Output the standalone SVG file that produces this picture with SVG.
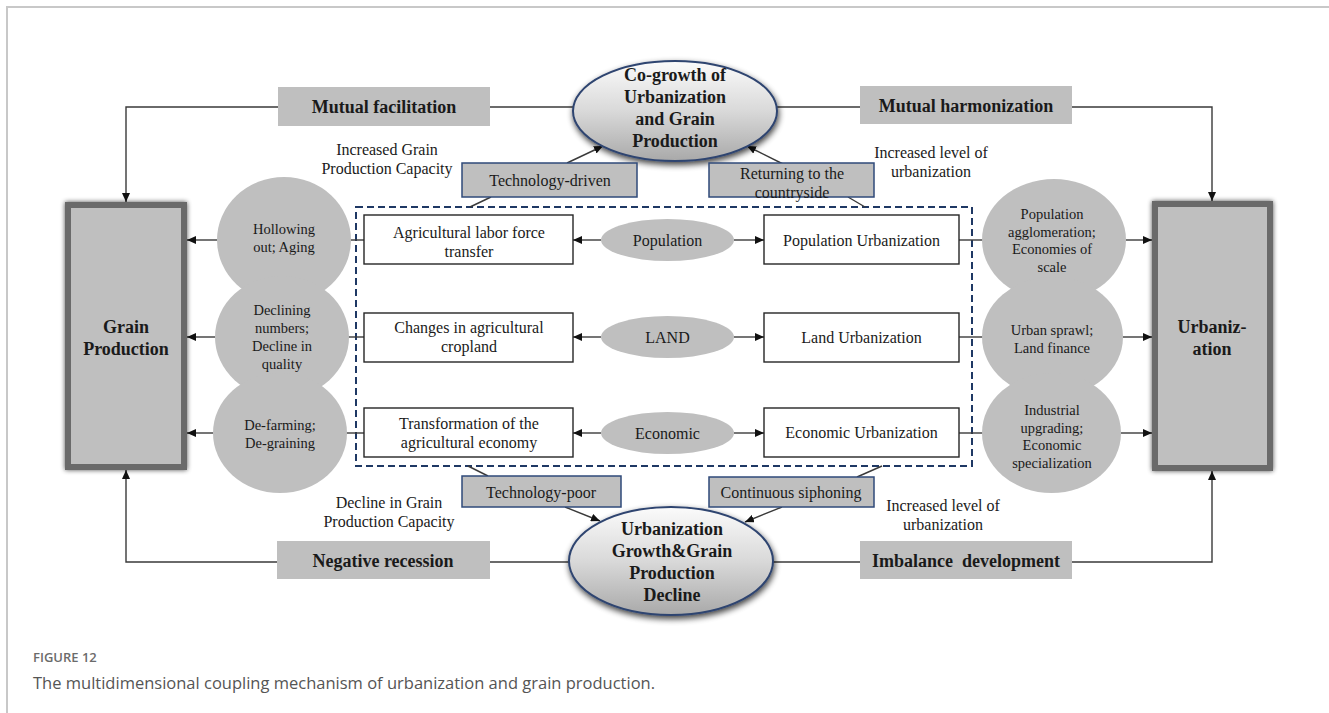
<svg xmlns="http://www.w3.org/2000/svg" width="1329" height="713" viewBox="0 0 1329 713">
<defs>
<style>
.serif{font-family:"Liberation Serif","Times New Roman",serif;fill:#1a1a1a}
.t16{font-size:16px}
.t15{font-size:14.5px}
.b18{font-size:18px;font-weight:bold}
.mid{text-anchor:middle}
.conn{stroke:#3a3a3a;stroke-width:1.4;fill:none}
.gbox{fill:#bfbfbf}
.sbox{fill:#bfbfbf;stroke:#2f4a7a;stroke-width:1.5}
.wbox{fill:#ffffff;stroke:#262626;stroke-width:1.4}
.circ{fill:#bfbfbf}
.big{fill:#bfbfbf;stroke:#6a6a6a;stroke-width:6}
.oval{fill:url(#og);stroke:#2f4470;stroke-width:2}
</style>
<linearGradient id="og" x1="0" y1="0" x2="0" y2="1">
<stop offset="0" stop-color="#fbfbfb"/>
<stop offset="0.5" stop-color="#d9d9d9"/>
<stop offset="1" stop-color="#a9a9a9"/>
</linearGradient>
<filter id="glow" x="-20%" y="-20%" width="140%" height="140%">
<feGaussianBlur in="SourceAlpha" stdDeviation="2.5"/>
<feComponentTransfer><feFuncA type="linear" slope="0.7"/></feComponentTransfer>
<feMerge><feMergeNode/><feMergeNode in="SourceGraphic"/></feMerge>
</filter>
<filter id="osh" x="-20%" y="-20%" width="140%" height="150%">
<feGaussianBlur in="SourceAlpha" stdDeviation="3"/>
<feOffset dx="1" dy="3" result="b"/>
<feComponentTransfer><feFuncA type="linear" slope="0.75"/></feComponentTransfer>
<feMerge><feMergeNode/><feMergeNode in="SourceGraphic"/></feMerge>
</filter>
<marker id="ah" markerWidth="9" markerHeight="8" refX="9" refY="4" orient="auto" markerUnits="userSpaceOnUse">
<path d="M0,0 L9,4 L0,8 z" fill="#111"/>
</marker>
</defs>
<rect x="0" y="0" width="1329" height="713" fill="#ffffff"/>
<path d="M7,713 L7,7 L1329,7" stroke="#c8c8c8" stroke-width="2" fill="none"/>

<g id="coupling-frame">
<rect x="356" y="207" width="616" height="259" fill="none" stroke="#1f3864" stroke-width="2" stroke-dasharray="7 4"/>
</g>

<g id="connectors">
<path class="conn" d="M278,107 L126,107 L126,202" marker-end="url(#ah)"/>
<path class="conn" d="M490,107 L573,107"/>
<path class="conn" d="M777,107 L860,107"/>
<path class="conn" d="M1072,107 L1212,107 L1212,201" marker-end="url(#ah)"/>
<path class="conn" d="M277,562 L126,562 L126,470" marker-end="url(#ah)"/>
<path class="conn" d="M490,562 L569,562"/>
<path class="conn" d="M773,562 L860,562"/>
<path class="conn" d="M1072,562 L1212,562 L1212,471" marker-end="url(#ah)"/>
<path class="conn" d="M470,207 L491,197"/>
<path class="conn" d="M567,163 L603,146" marker-end="url(#ah)"/>
<path class="conn" d="M865,207 L848,197"/>
<path class="conn" d="M783,164 L747,146" marker-end="url(#ah)"/>
<path class="conn" d="M468,466 L488,476"/>
<path class="conn" d="M565,507 L600,521" marker-end="url(#ah)"/>
<path class="conn" d="M882,466 L857,477"/>
<path class="conn" d="M782,507 L745,522" marker-end="url(#ah)"/>
<path class="conn" d="M601,240 L573,240" marker-end="url(#ah)"/>
<path class="conn" d="M734,240 L764,240" marker-end="url(#ah)"/>
<path class="conn" d="M601,337 L573,337" marker-end="url(#ah)"/>
<path class="conn" d="M734,337 L764,337" marker-end="url(#ah)"/>
<path class="conn" d="M601,433 L573,433" marker-end="url(#ah)"/>
<path class="conn" d="M734,433 L764,433" marker-end="url(#ah)"/>
<path class="conn" d="M364,240 L350,240"/>
<path class="conn" d="M364,337 L348,337"/>
<path class="conn" d="M364,433 L346,433"/>
<path class="conn" d="M959,240 L983,240"/>
<path class="conn" d="M959,337 L983,337"/>
<path class="conn" d="M959,433 L983,433"/>
<path class="conn" d="M217,240 L187,240" marker-end="url(#ah)"/>
<path class="conn" d="M215,337 L187,337" marker-end="url(#ah)"/>
<path class="conn" d="M213,433 L187,433" marker-end="url(#ah)"/>
<path class="conn" d="M1126,240 L1152,240" marker-end="url(#ah)"/>
<path class="conn" d="M1123,337 L1152,337" marker-end="url(#ah)"/>
<path class="conn" d="M1121,433 L1152,433" marker-end="url(#ah)"/>
</g>

<g id="grain-production">
<rect class="big" x="68" y="205" width="116" height="262" filter="url(#glow)"/>
<text class="serif b18 mid" x="126" y="333">Grain</text>
<text class="serif b18 mid" x="126" y="355">Production</text>
</g>
<g id="urbanization">
<rect class="big" x="1155" y="204" width="115" height="264" filter="url(#glow)"/>
<text class="serif b18 mid" x="1212" y="333">Urbaniz-</text>
<text class="serif b18 mid" x="1212" y="355">ation</text>
</g>

<g id="mutual-facilitation">
<rect class="gbox" x="278" y="87" width="212" height="39"/>
<text class="serif b18 mid" x="384" y="113">Mutual facilitation</text>
</g>
<g id="mutual-harmonization">
<rect class="gbox" x="860" y="86" width="212" height="38"/>
<text class="serif b18 mid" x="966" y="112">Mutual harmonization</text>
</g>
<g id="negative-recession">
<rect class="gbox" x="277" y="541" width="213" height="38"/>
<text class="serif b18 mid" x="383" y="567">Negative recession</text>
</g>
<g id="imbalance-development">
<rect class="gbox" x="860" y="541" width="212" height="38"/>
<text class="serif b18 mid" x="966" y="567" xml:space="preserve">Imbalance  development</text>
</g>

<g id="co-growth">
<ellipse class="oval" cx="675" cy="111" rx="102" ry="50" filter="url(#osh)"/>
<text class="serif b18 mid" x="675" y="81">Co-growth of</text>
<text class="serif b18 mid" x="675" y="103">Urbanization</text>
<text class="serif b18 mid" x="675" y="125">and Grain</text>
<text class="serif b18 mid" x="675" y="147">Production</text>
</g>
<g id="growth-decline">
<ellipse class="oval" cx="671" cy="561" rx="102" ry="54" filter="url(#osh)"/>
<text class="serif b18 mid" x="672" y="535">Urbanization</text>
<text class="serif b18 mid" x="672" y="557">Growth&amp;Grain</text>
<text class="serif b18 mid" x="672" y="579">Production</text>
<text class="serif b18 mid" x="672" y="601">Decline</text>
</g>

<g id="technology-driven">
<rect class="sbox" x="462" y="163" width="175" height="34"/>
<text class="serif t16 mid" x="550" y="185.5">Technology-driven</text>
</g>
<g id="returning-countryside">
<rect class="sbox" x="709" y="163" width="165" height="34"/>
<text class="serif t16 mid" x="792" y="178.5">Returning to the</text>
<text class="serif t16 mid" x="792" y="197.5">countryside</text>
</g>
<g id="technology-poor">
<rect class="sbox" x="462" y="476" width="159" height="31"/>
<text class="serif t16 mid" x="541" y="497.5">Technology-poor</text>
</g>
<g id="continuous-siphoning">
<rect class="sbox" x="709" y="477" width="165" height="30"/>
<text class="serif t16 mid" x="791" y="497.5">Continuous siphoning</text>
</g>

<g id="labels">
<text class="serif t16 mid" x="387" y="155">Increased Grain</text>
<text class="serif t16 mid" x="387" y="174">Production Capacity</text>
<text class="serif t16 mid" x="931" y="157.5">Increased level of</text>
<text class="serif t16 mid" x="931" y="176.5">urbanization</text>
<text class="serif t16 mid" x="389" y="507.5">Decline in Grain</text>
<text class="serif t16 mid" x="389" y="526.5">Production Capacity</text>
<text class="serif t16 mid" x="943" y="510.5">Increased level of</text>
<text class="serif t16 mid" x="943" y="529.5">urbanization</text>
</g>

<g id="agri-labor">
<rect class="wbox" x="364" y="215" width="209" height="49"/>
<text class="serif t16 mid" x="469" y="237.5">Agricultural labor force</text>
<text class="serif t16 mid" x="469" y="256.5">transfer</text>
</g>
<g id="cropland">
<rect class="wbox" x="364" y="313" width="209" height="49"/>
<text class="serif t16 mid" x="469" y="333">Changes in agricultural</text>
<text class="serif t16 mid" x="469" y="352">cropland</text>
</g>
<g id="agri-economy">
<rect class="wbox" x="364" y="408" width="209" height="49"/>
<text class="serif t16 mid" x="469" y="428.5">Transformation of the</text>
<text class="serif t16 mid" x="469" y="447.5">agricultural economy</text>
</g>

<g id="population">
<ellipse class="circ" cx="667.5" cy="240" rx="66.5" ry="21"/>
<text class="serif t16 mid" x="667.5" y="245.5">Population</text>
</g>
<g id="land">
<ellipse class="circ" cx="667.5" cy="337" rx="66.5" ry="21"/>
<text class="serif t16 mid" x="667.5" y="342.5">LAND</text>
</g>
<g id="economic">
<ellipse class="circ" cx="667.5" cy="433" rx="66.5" ry="21"/>
<text class="serif t16 mid" x="667.5" y="438.5">Economic</text>
</g>

<g id="pop-urbanization">
<rect class="wbox" x="764" y="215" width="195" height="49"/>
<text class="serif t16 mid" x="861.5" y="245.5">Population Urbanization</text>
</g>
<g id="land-urbanization">
<rect class="wbox" x="764" y="313" width="195" height="49"/>
<text class="serif t16 mid" x="861.5" y="342.5">Land Urbanization</text>
</g>
<g id="econ-urbanization">
<rect class="wbox" x="764" y="408" width="195" height="49"/>
<text class="serif t16 mid" x="861.5" y="438">Economic Urbanization</text>
</g>

<g id="hollowing">
<ellipse class="circ" cx="284" cy="240" rx="67" ry="63"/>
<text class="serif t15 mid" x="284" y="234">Hollowing</text>
<text class="serif t15 mid" x="284" y="252">out; Aging</text>
</g>
<g id="declining">
<ellipse class="circ" cx="282" cy="337" rx="67" ry="61"/>
<text class="serif t15 mid" x="282" y="315">Declining</text>
<text class="serif t15 mid" x="282" y="333">numbers;</text>
<text class="serif t15 mid" x="282" y="351">Decline in</text>
<text class="serif t15 mid" x="282" y="369">quality</text>
</g>
<g id="defarming">
<ellipse class="circ" cx="280" cy="433" rx="67" ry="60"/>
<text class="serif t15 mid" x="280" y="430">De-farming;</text>
<text class="serif t15 mid" x="280" y="448">De-graining</text>
</g>

<g id="agglomeration">
<ellipse class="circ" cx="1054" cy="240" rx="72" ry="61"/>
<text class="serif t15 mid" x="1052" y="219">Population</text>
<text class="serif t15 mid" x="1052" y="237">agglomeration;</text>
<text class="serif t15 mid" x="1052" y="254">Economies of</text>
<text class="serif t15 mid" x="1052" y="272">scale</text>
</g>
<g id="urban-sprawl">
<ellipse class="circ" cx="1052.5" cy="337" rx="70.5" ry="60"/>
<text class="serif t15 mid" x="1052" y="335">Urban sprawl;</text>
<text class="serif t15 mid" x="1052" y="353">Land finance</text>
</g>
<g id="industrial">
<ellipse class="circ" cx="1051.5" cy="433" rx="69.5" ry="60"/>
<text class="serif t15 mid" x="1052" y="415">Industrial</text>
<text class="serif t15 mid" x="1052" y="433">upgrading;</text>
<text class="serif t15 mid" x="1052" y="450">Economic</text>
<text class="serif t15 mid" x="1052" y="468">specialization</text>
</g>

<g id="caption">
<text x="33" y="662" style="font-family:'Open Sans','Noto Sans',sans-serif;font-size:13px;font-weight:600;fill:#6b6b6b">FIGURE 12</text>
<text x="33" y="689" style="font-family:'Open Sans','Noto Sans',sans-serif;font-size:16.5px;fill:#555555">The multidimensional coupling mechanism of urbanization and grain production.</text>
</g>
</svg>
